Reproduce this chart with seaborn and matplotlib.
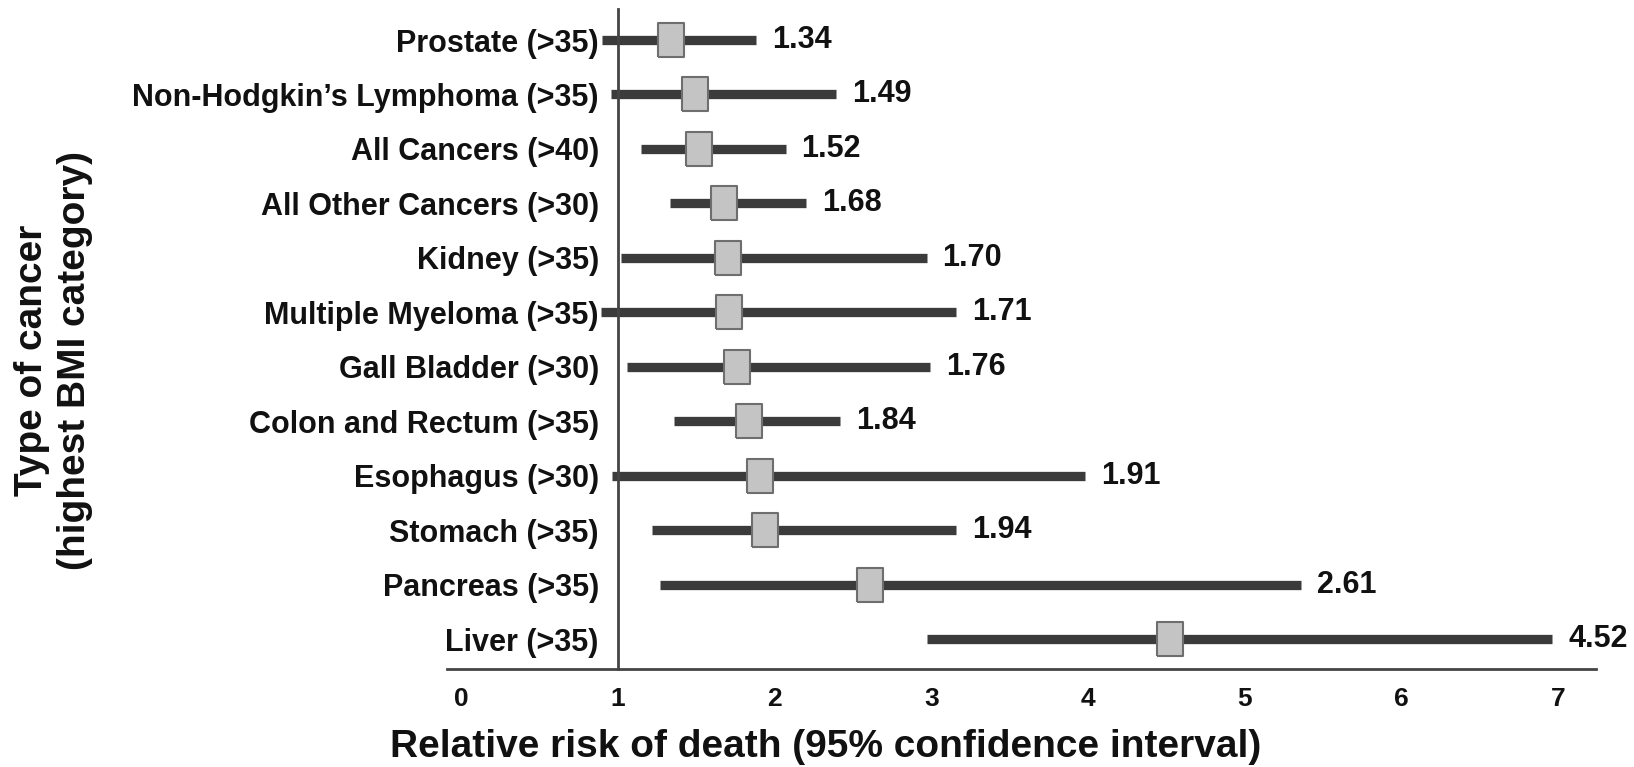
import numpy as np
import pandas as pd
import matplotlib
matplotlib.use("Agg")
import matplotlib.pyplot as plt
import seaborn as sns

# ---- data ----
cancers = ["Prostate (>35)", "Non-Hodgkin\u2019s Lymphoma (>35)", "All Cancers (>40)",
           "All Other Cancers (>30)", "Kidney (>35)", "Multiple Myeloma (>35)",
           "Gall Bladder (>30)", "Colon and Rectum (>35)", "Esophagus (>30)",
           "Stomach (>35)", "Pancreas (>35)", "Liver (>35)"]
rr = [1.34, 1.49, 1.52, 1.68, 1.70, 1.71, 1.76, 1.84, 1.91, 1.94, 2.61, 4.52]
ci_low = [0.90, 0.955, 1.15, 1.33, 1.02, 0.89, 1.06, 1.36, 0.96, 1.22, 1.27, 2.97]
ci_high = [1.88, 2.39, 2.07, 2.20, 2.97, 3.16, 2.99, 2.42, 3.98, 3.16, 5.36, 6.96]
x_ticks = [0, 1, 2, 3, 4, 5, 6, 7]

sns.set_theme(style="white")
plt.rcParams['font.family'] = ['Liberation Sans', 'DejaVu Sans']
plt.rcParams['font.weight'] = 'bold'
plt.rcParams['axes.labelweight'] = 'bold'

df = pd.DataFrame({"cancer": cancers, "rr": rr, "lo": ci_low, "hi": ci_high})
df["pos"] = np.arange(len(df))

fig = plt.figure(figsize=(16.34, 7.67), dpi=100)
ax = fig.add_axes([0.2736, 0.1278, 0.7032, 0.8605])

# confidence intervals
ax.hlines(df["pos"], df["lo"], df["hi"], color="#3b3b3b", linewidth=6.7,
          capstyle="butt", zorder=2)

# point estimates (rectangular markers)
rect = [(-25, -33), (25, -33), (25, 33), (-25, 33), (-25, -33)]
sns.scatterplot(data=df, x="rr", y="pos", marker=rect, s=566, color="#c4c4c4",
                edgecolor="#6e6e6e", linewidth=1.5, zorder=3, ax=ax, legend=False)

# value labels
for _, row in df.iterrows():
    ax.annotate(f"{row['rr']:.2f}", xy=(row["hi"], row["pos"]), xytext=(11.5, 0),
                textcoords="offset points", ha="left", va="center",
                fontsize=22, fontweight="bold", color="#111111")

ax.set_yticks(df["pos"], labels=df["cancer"])
ax.set_ylim(11.55, -0.57)
ax.set_xlim(-0.089, 7.24)
ax.set_xticks(x_ticks, labels=[str(t) for t in x_ticks])

ax.tick_params(axis="y", length=0, pad=13.7, labelsize=22, labelcolor="#111111")
ax.tick_params(axis="x", length=0, pad=13, labelsize=19, labelcolor="#111111")

for s in ["top", "right"]:
    ax.spines[s].set_visible(False)
ax.spines["left"].set_position(("data", 1))
for s in ["left", "bottom"]:
    ax.spines[s].set_color("#444444")
    ax.spines[s].set_linewidth(2)

ax.set_xlabel("Relative risk of death (95% confidence interval)", fontsize=28,
              fontweight="bold", color="#111111")
ax.xaxis.set_label_coords(826 / 1634, 1 - 757 / 767, transform=fig.transFigure)
ax.xaxis.label.set_va("baseline")

ax.set_ylabel("Type of cancer\n(highest BMI category)", fontsize=28,
              fontweight="bold", linespacing=1.25, color="#111111")
ax.yaxis.set_label_coords(54 / 1634, 1 - 360 / 767, transform=fig.transFigure)
ax.yaxis.label.set_va("center")

fig.savefig("out.png", dpi=100)
